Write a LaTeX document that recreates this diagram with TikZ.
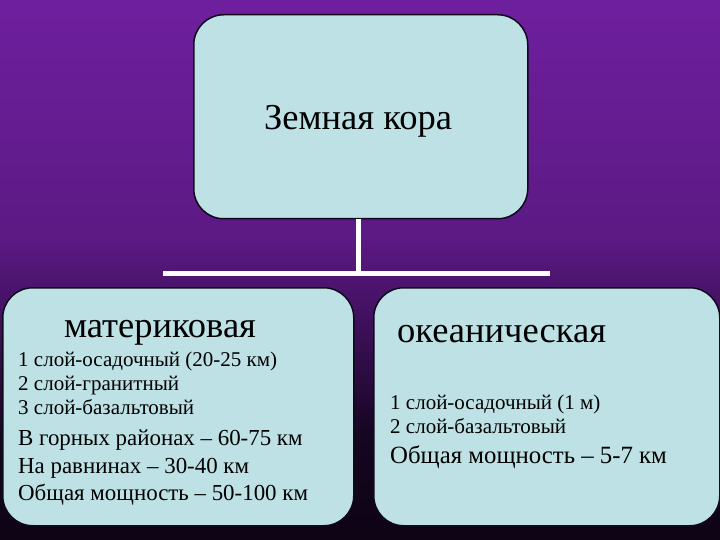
\documentclass[tikz,border=0pt]{standalone}
\usepackage{fontspec}
\setmainfont{Liberation Serif}
\usetikzlibrary{positioning, calc}
\definecolor{boxfill}{RGB}{189,225,228}
\definecolor{boxline}{RGB}{15,10,25}
\definecolor{bgtop}{RGB}{110,31,158}
\definecolor{bgmid}{RGB}{92,26,132}
\definecolor{bglow}{RGB}{70,18,102}
\definecolor{bgdark}{RGB}{22,6,34}
\pgfdeclareverticalshading{slidebg}{100bp}{color(0bp)=(bgdark!60!black); color(25bp)=(bgdark!60!black); color(35bp)=(bgdark); color(47bp)=(bglow); color(53bp)=(bgmid); color(75bp)=(bgtop); color(100bp)=(bgtop)}
\tikzset{
  crust/.style={draw=boxline, line width=1.5pt, fill=boxfill, rounded corners=30pt, anchor=north west, inner sep=0pt},
  link/.style={draw=white, line width=5pt},
  title/.style={font=\fontsize{36.5}{36.5}\selectfont, inner sep=0pt},
  small/.style={font=\fontsize{21}{21}\selectfont, anchor=base west, inner sep=0pt},
  large/.style={font=\fontsize{22.9}{22.9}\selectfont, anchor=base west, inner sep=0pt}
}
\begin{document}
\begin{tikzpicture}[x=1pt, y=-1pt]
\shade[shading=slidebg] (0,0) rectangle (720,540);
\useasboundingbox (0,0) rectangle (720,540);
\node[crust, minimum width=334pt, minimum height=204pt] (crust) at (193,14) {};
\node[crust, minimum width=351pt, minimum height=238pt] (cont) at (2,287) {};
\node[crust, minimum width=346pt, minimum height=238pt] (ocean) at (373,287) {};
\node[title, anchor=base] (crusttitle) at (358,130) {Земная кора};
\node[title, anchor=base] (conttitle) at (160,337) {материковая};
\node[small] (c1) at (18,366) {1 слой-осадочный (20-25 км)};
\node[small] (c2) at (18,390) {2 слой-гранитный};
\node[small] (c3) at (18,414) {3 слой-базальтовый};
\node[large] (c4) at (18,445) {В горных районах – 60-75 км};
\node[large] (c5) at (18,473) {На равнинах – 30-40 км};
\node[large] (c6) at (18,500) {Общая мощность – 50-100 км};
\node[title, anchor=base west] (oceantitle) at (397,342) {океаническая};
\node[small] (o1) at (390,409) {1 слой-осадочный (1 м)};
\node[small] (o2) at (390,433) {2 слой-базальтовый};
\node[large, font=\fontsize{24.8}{24.8}\selectfont] (o3) at (390,463) {Общая мощность – 5-7 км};
\coordinate (joint) at (358,273);
\coordinate (jleft) at (163,273);
\coordinate (jright) at (550,273);
\draw[link] (crust.south -| joint) -- (joint);
\draw[link] (jleft) -- (jright);
\end{tikzpicture}
\end{document}
